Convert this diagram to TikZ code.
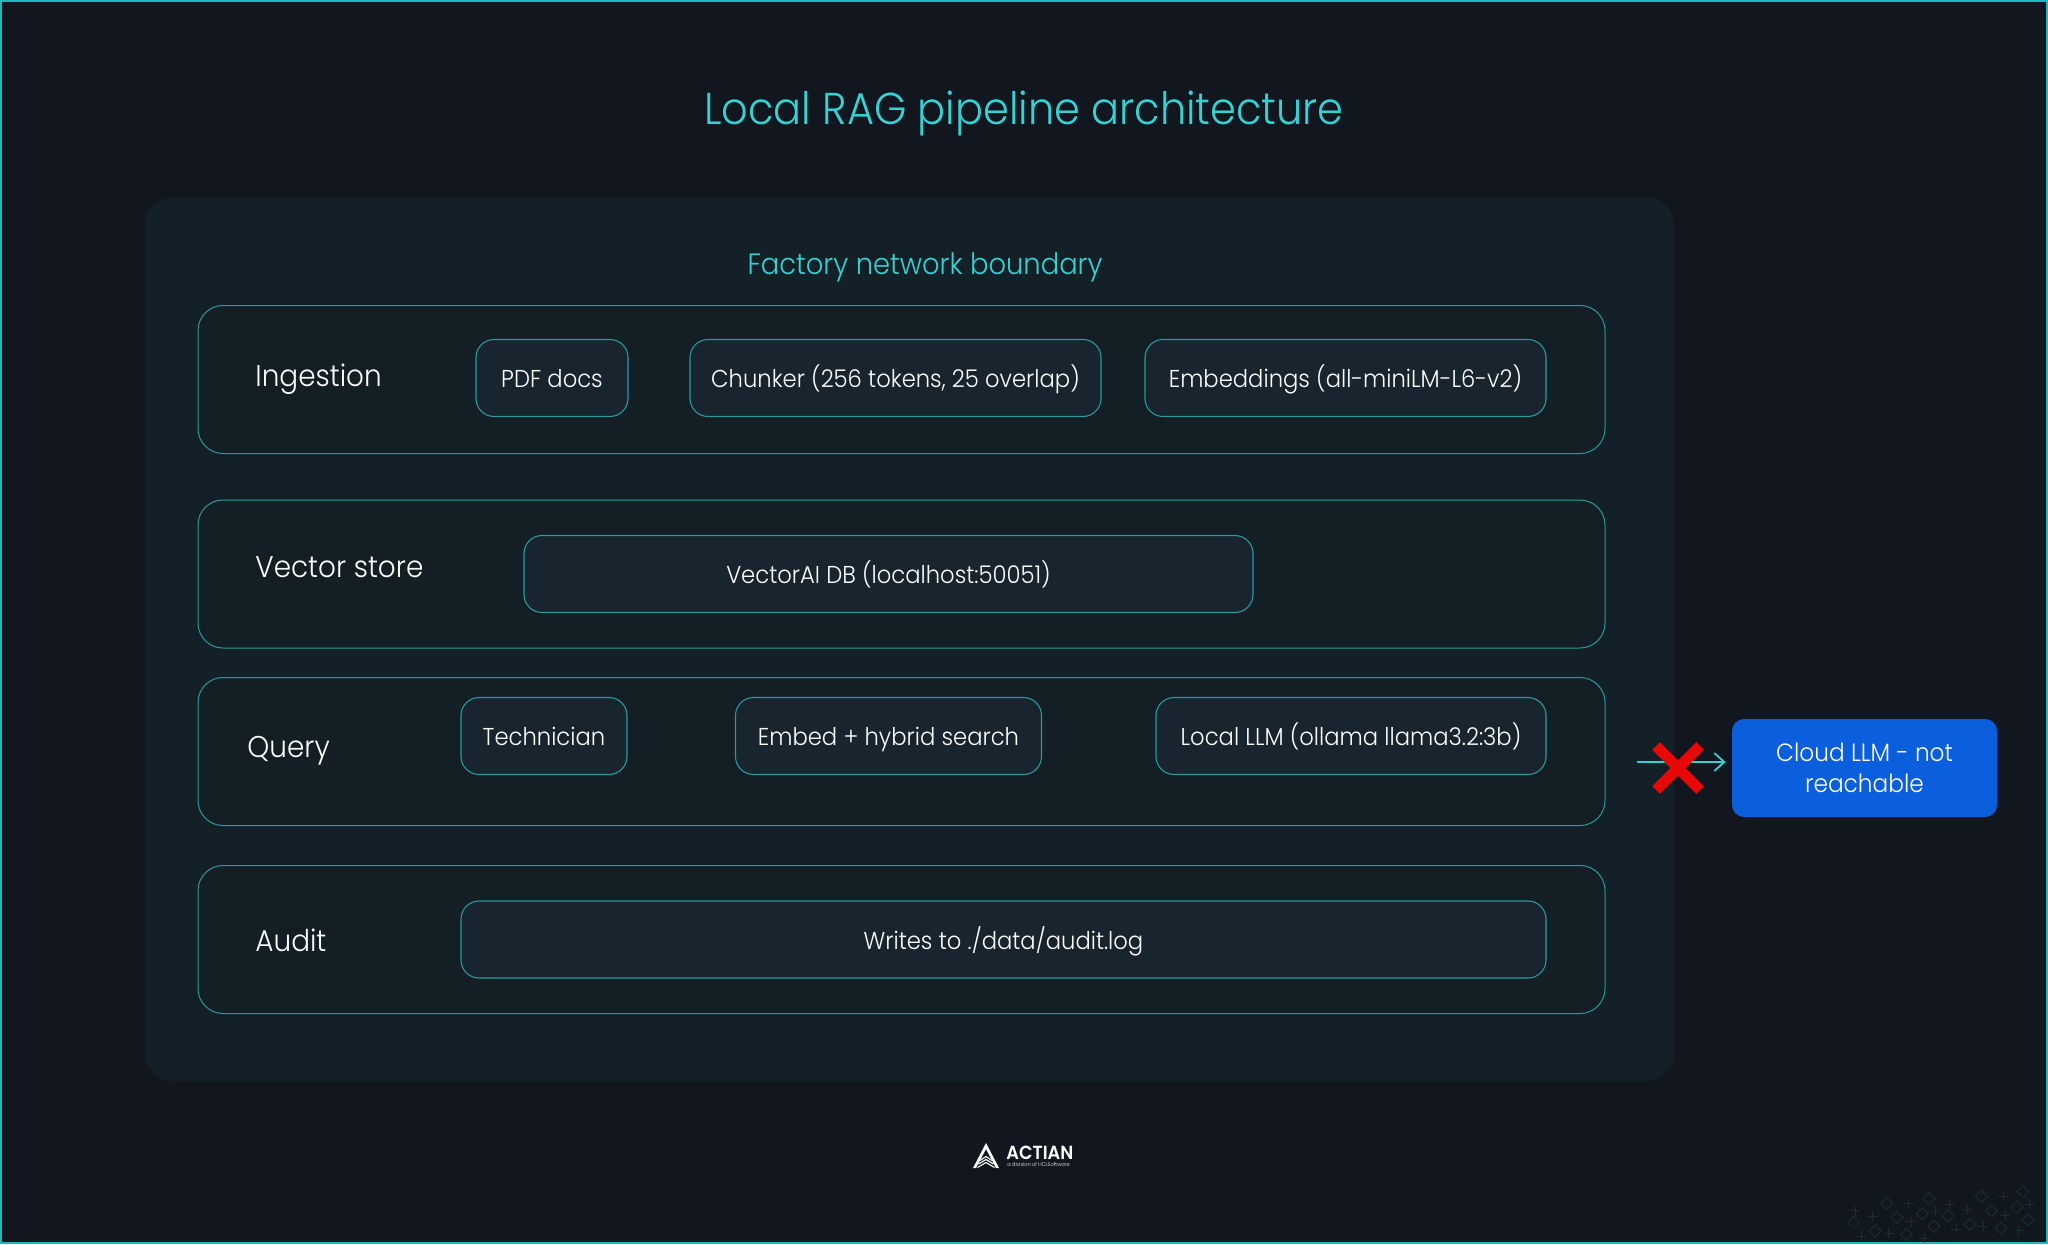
\documentclass[tikz,border=0pt]{standalone}
\usepackage{fontspec}
\setmainfont{Poppins}[UprightFont=* Light,BoldFont=* SemiBold,FakeStretch=0.93]
\usetikzlibrary{arrows.meta}
\definecolor{bgc}{HTML}{11161F}
\definecolor{panelc}{HTML}{142027}
\definecolor{rowc}{HTML}{131E25}
\definecolor{boxc}{HTML}{18242E}
\definecolor{edgec}{HTML}{2A9A9E}
\definecolor{tealc}{HTML}{35D2D3}
\definecolor{framec}{HTML}{1FB8BC}
\definecolor{cloudc}{HTML}{0B5EDC}
\definecolor{crossc}{HTML}{E80808}
\definecolor{patc}{HTML}{1A2D33}
\tikzset{
  x=0.5pt,y=-0.5pt,
  rowbox/.style={draw=edgec,line width=0.5pt,fill=rowc,rounded corners=12.5pt,inner sep=0pt,minimum height=74pt},
  itembox/.style={draw=edgec,line width=0.55pt,fill=boxc,rounded corners=9pt,inner sep=0pt,minimum height=38.5pt,text=white,text height=12.5pt,text depth=3pt,font=\fontsize{12.2pt}{15pt}\selectfont},
  rowlabel/.style={anchor=west,inner sep=0pt,text=white,text height=11pt,text depth=3pt,font=\fontsize{15pt}{18pt}\selectfont},
}
\begin{document}
\begin{tikzpicture}
\useasboundingbox (0,0) rectangle (2048,1244);
\fill[bgc] (0,0) rectangle (2048,1244);
\draw[framec,line width=1pt] (1,1) rectangle (2047,1243);
% pattern
\foreach \a/\b in {100/187,165/213,200/130,231/172,259/224,307/161,327/115,341/199,384/167,449/193,484/110,515/152,543/204,591/141,609/95,624/179}
  \draw[patc,line width=0.5pt] ({1820+\a/3-6},{1160+\b/3}) -- ({1820+\a/3},{1160+\b/3-6}) -- ({1820+\a/3+6},{1160+\b/3}) -- ({1820+\a/3},{1160+\b/3+6}) -- cycle;
\foreach \a/\b in {106/152,158/168,124/228,206/219,266/130,273/185,313/234,345/153,389/132,408/208,441/149,489/199,549/110,556/166,596/212,629/133}
  \draw[patc,line width=0.5pt] ({1820+\a/3-5},{1160+\b/3}) -- ({1820+\a/3+5},{1160+\b/3}) ({1820+\a/3},{1160+\b/3-5}) -- ({1820+\a/3},{1160+\b/3+5});
\node[text=tealc,font=\fontsize{22.3pt}{27pt}\selectfont,inner sep=0pt] (title) at (1024,113) {Local RAG pipeline architecture};
\node[fill=panelc,rounded corners=14pt,minimum width=764.5pt,minimum height=442pt,inner sep=0pt] (panel) at (909.5,639) {};
\node[text=tealc,font=\fontsize{14.7pt}{18pt}\selectfont,inner sep=0pt] (boundary) at (925,267) {Factory network boundary};
% rows
\node[rowbox,minimum width=703.5pt] (r1) at (901.5,379.5) {};
\node[rowbox,minimum width=703.5pt] (r2) at (901.5,574) {};
\node[rowbox,minimum width=703.5pt] (r3) at (901.5,751.5) {};
\node[rowbox,minimum width=703.5pt] (r4) at (901.5,939.5) {};
\node[rowlabel] (l1) at (255,378.5) {Ingestion};
\node[rowlabel] (l2) at (255,569) {Vector store};
\node[rowlabel] (l3) at (247,749) {Query};
\node[rowlabel] (l4) at (255,943) {Audit};
\node[itembox,minimum width=76pt] (b1) at (552,378) {PDF docs};
\node[itembox,minimum width=205.5pt] (b2) at (895.5,378) {Chunker (256 tokens, 25 overlap)};
\node[itembox,minimum width=200.5pt] (b3) at (1345.5,378) {Embeddings (all-miniLM-L6-v2)};
\node[itembox,minimum width=364.5pt] (b4) at (888.5,574) {VectorAI DB (localhost:50051)};
\node[itembox,minimum width=83pt] (b5) at (544,736) {Technician};
\node[itembox,minimum width=153pt] (b6) at (888.5,736) {Embed + hybrid search};
\node[itembox,minimum width=195pt] (b7) at (1351,736) {Local LLM (ollama llama3.2:3b)};
\node[itembox,minimum width=542.5pt] (b8) at (1003.5,939.5) {Writes to ./data/audit.log};
% cloud
\node[fill=cloudc,rounded corners=6pt,minimum width=132.5pt,minimum height=49pt,inner sep=0pt,text=white,align=center,font=\fontsize{12.5pt}{15.6pt}\selectfont] (cloud) at (1864.5,768) {Cloud LLM - not\\reachable};
\coordinate (astart) at (1637,762);
\draw[tealc,line width=0.9pt,-{Straight Barb[length=5pt,width=9pt]},shorten >=3pt] (astart) -- (astart -| cloud.west);
\draw[crossc,line width=5.4pt] (1656,746) -- (1700,790) (1700,746) -- (1656,790);
% logo
\fill[white] (973,1168) -- (986,1143) -- (999,1168) -- (996,1168) -- (986,1149) -- (976,1168) -- cycle;
\draw[white,line width=0.55pt] (980,1160.5) -- (986,1156.5) -- (992,1160.5) (978.5,1164) -- (986,1159.5) -- (993.5,1164) (977.5,1167.5) -- (986,1162.5) -- (994.5,1167.5);
\node[anchor=west,inner sep=0pt,text=white,font=\fontsize{9.5pt}{10pt}\bfseries\selectfont] (logo) at (1006,1152.5) {ACTIAN};
\node[anchor=west,inner sep=0pt,text=white,font=\fontsize{2.7pt}{3pt}\selectfont] (logosub) at (1007,1164) {a division of HCLSoftware};
\end{tikzpicture}
\end{document}
